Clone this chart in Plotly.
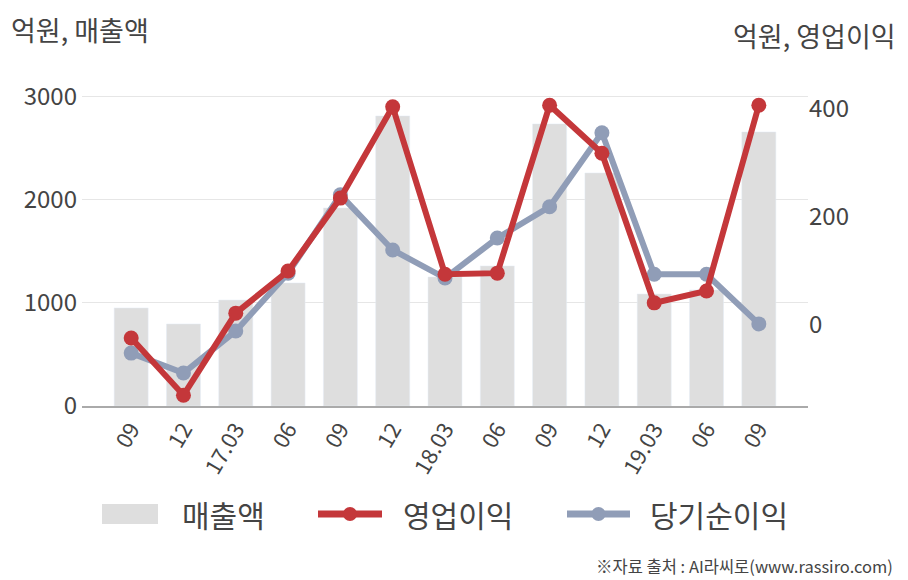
import plotly.graph_objects as go

categories = ["09", "12", "17.03", "06", "09", "12", "18.03", "06", "09", "12", "19.03", "06", "09"]
sales = [950, 795, 1027, 1192, 1919, 2810, 1250, 1357, 2733, 2258, 1085, 1124, 2655]
op_profit = [-24, -130, 22, 100, 235, 404, 94, 96, 407, 318, 41, 63, 407]
net_profit = [-52, -89, -11, 96, 241, 139, 87, 161, 219, 356, 94, 94, 2]

x = list(range(len(categories)))
FONT = "Noto Sans CJK KR"
TXT = "#444444"
BAR_C = "#dedede"
RED = "#c4373a"
BLUE = "#909db7"

fig = go.Figure()
fig.add_trace(go.Bar(x=x, y=sales, name="매출액", marker_color=BAR_C, width=0.65, yaxis="y"))
fig.add_trace(go.Scatter(x=x, y=net_profit, name="당기순이익", mode="lines+markers",
                         line=dict(color=BLUE, width=6), marker=dict(size=15, color=BLUE), yaxis="y2"))
fig.add_trace(go.Scatter(x=x, y=op_profit, name="영업이익", mode="lines+markers",
                         line=dict(color=RED, width=6), marker=dict(size=15, color=RED), yaxis="y2"))

fig.update_layout(
    width=908, height=580,
    margin=dict(l=82, r=100, t=75, b=174),
    paper_bgcolor="white", plot_bgcolor="white",
    showlegend=False,
    font=dict(family=FONT, color=TXT),
    xaxis=dict(range=[-0.94, 12.94], tickvals=x, ticktext=categories, tickangle=-60,
               tickfont=dict(size=22, color=TXT), showline=True, linecolor="#aaaaaa", linewidth=1.5,
               showgrid=False, ticks="", zeroline=False),
    yaxis=dict(range=[0, 3207], tickvals=[0, 1000, 2000, 3000], tickfont=dict(size=24, color=TXT),
               showgrid=True, gridcolor="#e6e6e6", zeroline=False, ticks="", ticklabelstandoff=4),
    yaxis2=dict(range=[-150, 463], tickvals=[0, 200, 400], overlaying="y", side="right",
                tickfont=dict(size=24, color=TXT), showgrid=False, zeroline=False),
    bargap=0.35,
)

def px_x(v):
    return (v - 82) / 726

def px_y(v):
    return (406 - v) / 331

fig.add_annotation(text="억원, 매출액", xref="paper", yref="paper", x=px_x(9), xanchor="left",
                   y=px_y(30), yanchor="middle", showarrow=False, font=dict(size=27, color=TXT))
fig.add_annotation(text="억원, 영업이익", xref="paper", yref="paper", x=px_x(898), xanchor="right",
                   y=px_y(36), yanchor="middle", showarrow=False, font=dict(size=27, color=TXT))

# manual legend
ly = 514
fig.add_shape(type="rect", xref="paper", yref="paper", x0=px_x(102), x1=px_x(158),
              y0=px_y(ly + 10), y1=px_y(ly - 10), fillcolor=BAR_C, line_width=0)
fig.add_annotation(text="매출액", xref="paper", yref="paper", x=px_x(180), y=px_y(ly),
                   xanchor="left", yanchor="middle", showarrow=False, font=dict(size=30, color=TXT))
for (x0, x1, tx, col, label) in [(318, 382, 401, RED, "영업이익"), (567, 630, 648, BLUE, "당기순이익")]:
    fig.add_shape(type="line", xref="paper", yref="paper", x0=px_x(x0), x1=px_x(x1),
                  y0=px_y(ly), y1=px_y(ly), line=dict(color=col, width=7))
    cx = (x0 + x1) / 2
    fig.add_shape(type="circle", xref="paper", yref="paper", x0=px_x(cx - 7), x1=px_x(cx + 7),
                  y0=px_y(ly + 7), y1=px_y(ly - 7), fillcolor=col, line_width=0)
    fig.add_annotation(text=label, xref="paper", yref="paper", x=px_x(tx), y=px_y(ly),
                       xanchor="left", yanchor="middle", showarrow=False, font=dict(size=30, color=TXT))

fig.add_annotation(text="※자료 출처 : AI라씨로(www.rassiro.com)", xref="paper", yref="paper",
                   x=px_x(895), y=px_y(566), xanchor="right", yanchor="middle", showarrow=False,
                   font=dict(size=16.5, color=TXT))

fig.write_html("out.html")
